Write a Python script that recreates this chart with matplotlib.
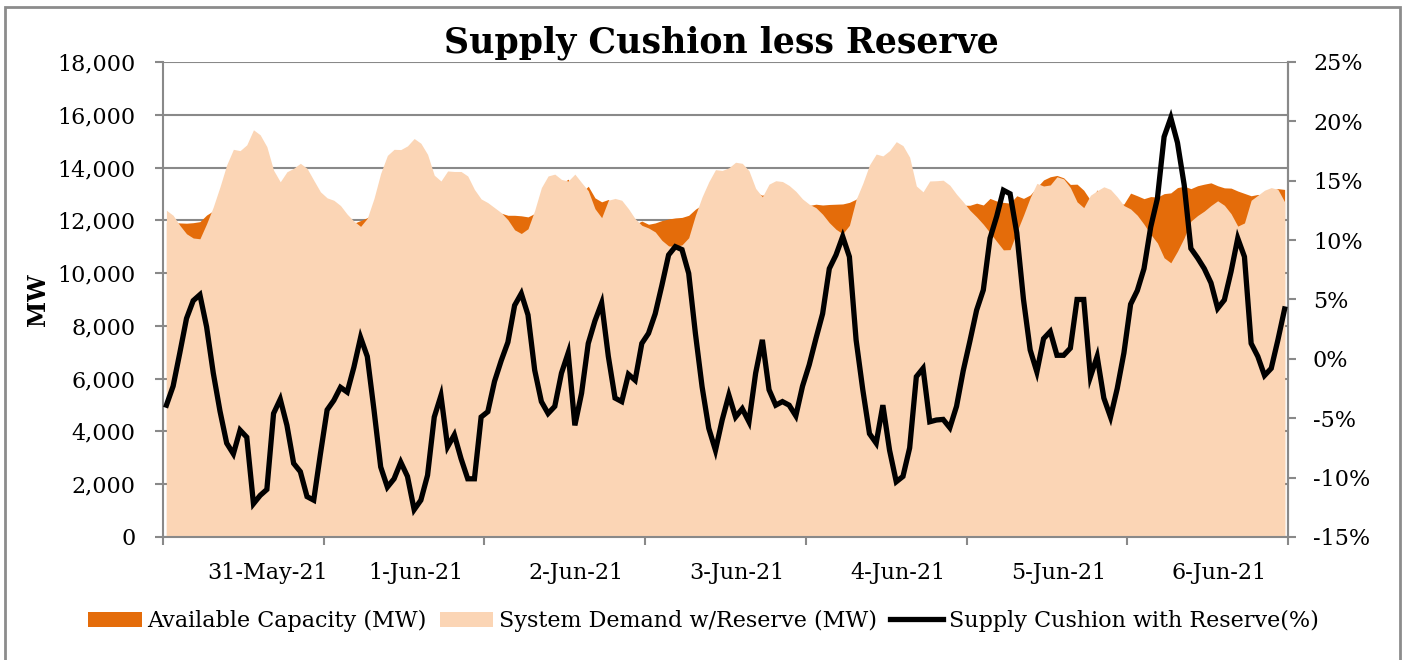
import numpy as np
import matplotlib
matplotlib.use("Agg")
import matplotlib.pyplot as plt
from matplotlib.patches import Patch, Rectangle
from matplotlib.lines import Line2D
from matplotlib.ticker import FuncFormatter, FixedLocator

# hourly values, 31-May-21 .. 6-Jun-21 (24 per day)
cap_mw = [
    11920, 11920, 11900, 11890, 11910, 11950, 12200, 12360, 12710, 13170, 13600, 13810,
    13940, 13750, 13670, 13320, 13290, 13020, 13110, 12840, 12930, 12520, 12080, 12110,
    12320, 12330, 12270, 11900, 11890, 11990, 12100, 12300, 12630, 13050, 13340, 13510,
    13490, 13400, 13330, 13210, 13070, 13080, 12910, 13020, 12780, 12420, 11960, 12210,
    12130, 12250, 12270, 12190, 12190, 12170, 12130, 12260, 12780, 13080, 13220, 13390,
    13560, 13020, 13050, 13290, 12850, 12700, 12790, 12420, 12320, 12280, 11850, 11970,
    11850, 11900, 11990, 12050, 12090, 12110, 12190, 12420, 12590, 12720, 12920, 13210,
    13580, 13540, 13590, 13180, 13050, 12950, 13030, 12990, 13000, 12820, 12500, 12520,
    12560, 12610, 12580, 12600, 12610, 12620, 12680, 12800, 13060, 13260, 13550, 13900,
    13590, 13580, 13490, 13390, 13100, 12980, 12810, 12840, 12860, 12600, 12490, 12570,
    12570, 12650, 12580, 12830, 12730, 12680, 12650, 12930, 12830, 12960, 13250, 13530,
    13650, 13700, 13610, 13360, 13370, 13140, 12760, 13150, 12850, 12550, 12580, 12620,
    13030, 12930, 12820, 12900, 12880, 13010, 13040, 13240, 13290, 13200, 13310, 13370,
    13420, 13310, 13230, 13220, 13110, 13020, 12930, 12980, 12960, 13130, 13200, 13170,
]
demand_mw = [
    12380, 12190, 11810, 11490, 11330, 11300, 11870, 12510, 13270, 14100, 14690, 14640,
    14860, 15430, 15240, 14790, 13900, 13460, 13840, 13970, 14160, 13970, 13520, 13080,
    12850, 12760, 12560, 12230, 11970, 11770, 12080, 12830, 13780, 14460, 14690, 14680,
    14820, 15100, 14920, 14500, 13710, 13490, 13870, 13850, 13850, 13680, 13170, 12810,
    12670, 12480, 12290, 12020, 11640, 11500, 11680, 12380, 13240, 13680, 13750, 13550,
    13490, 13750, 13430, 13120, 12440, 12100, 12760, 12830, 12760, 12440, 12060, 11810,
    11710, 11560, 11240, 11030, 11010, 11070, 11340, 12190, 12890, 13460, 13920, 13890,
    13990, 14200, 14160, 13880, 13210, 12890, 13370, 13500, 13470, 13320, 13100, 12810,
    12610, 12480, 12230, 11910, 11660, 11490, 11810, 12790, 13400, 14100, 14510, 14440,
    14640, 14980, 14830, 14390, 13300, 13080, 13490, 13500, 13520, 13330, 12990, 12700,
    12380, 12130, 11850, 11530, 11200, 10880, 10890, 11560, 12190, 12860, 13400, 13300,
    13340, 13650, 13570, 13240, 12700, 12480, 12950, 13120, 13270, 13170, 12890, 12560,
    12430, 12190, 11850, 11470, 11140, 10580, 10390, 10830, 11340, 11970, 12180, 12350,
    12560, 12740, 12570, 12250, 11780, 11900, 12760, 12950, 13140, 13240, 13170, 12700,
]
cushion_pct = [
    -3.9, -2.3, 0.5, 3.4, 4.9, 5.4, 2.7, -1.2, -4.4, -7.1, -8.0, -6.0,
    -6.6, -12.2, -11.5, -11.0, -4.6, -3.4, -5.6, -8.8, -9.5, -11.6, -11.9, -8.0,
    -4.3, -3.5, -2.4, -2.8, -0.7, 1.8, 0.2, -4.3, -9.1, -10.8, -10.1, -8.7,
    -9.9, -12.7, -11.9, -9.8, -4.9, -3.1, -7.4, -6.4, -8.4, -10.1, -10.1, -4.9,
    -4.45, -1.9, -0.15, 1.4, 4.5, 5.5, 3.7, -0.95, -3.6, -4.6, -4.0, -1.2,
    0.5, -5.6, -2.9, 1.3, 3.2, 4.7, 0.2, -3.3, -3.6, -1.3, -1.8, 1.3,
    2.15, 3.8, 6.2, 8.75, 9.45, 9.2, 7.2, 2.15, -2.35, -5.85, -7.7, -5.15,
    -3.05, -4.9, -4.2, -5.3, -1.2, 1.6, -2.6, -3.9, -3.6, -3.9, -4.8, -2.3,
    -0.5, 1.7, 3.8, 7.6, 8.75, 10.3, 8.6, 1.6, -2.6, -6.3, -7.1, -3.9,
    -7.7, -10.35, -9.9, -7.5, -1.5, -0.8, -5.3, -5.15, -5.1, -5.8, -4.0, -1.0,
    1.5, 4.1, 5.8, 10.15, 12.0, 14.2, 13.9, 10.6, 5.0, 0.75, -1.1, 1.7,
    2.3, 0.3, 0.3, 0.9, 5.0, 5.0, -1.5, 0.2, -3.3, -4.9, -2.5, 0.5,
    4.6, 5.75, 7.6, 11.1, 13.5, 18.7, 20.3, 18.2, 14.65, 9.3, 8.5, 7.6,
    6.4, 4.25, 4.96, 7.35, 10.15, 8.6, 1.3, 0.2, -1.4, -0.8, 1.6, 4.2,
]
day_labels = ['31-May-21', '1-Jun-21', '2-Jun-21', '3-Jun-21', '4-Jun-21', '5-Jun-21', '6-Jun-21']

ORANGE = '#E46C0A'
PEACH = '#FBD5B5'
GRID = '#898989'

plt.rcParams['font.family'] = ['DejaVu Serif']
plt.rcParams['font.size'] = 16

fig = plt.figure(figsize=(14.07, 6.6), dpi=100)
ax = fig.add_axes([0.1159, 0.1864, 0.7995, 0.7197])

hours = np.arange(len(demand_mw))
ax.fill_between(hours, cap_mw, color=ORANGE, lw=0, zorder=1)
ax.fill_between(hours, demand_mw, color=PEACH, lw=0, zorder=2)

ax.set_xlim(-0.5, len(hours) - 0.5)
ax.set_ylim(0, 18000)
ax.set_yticks(np.arange(0, 18001, 2000))
ax.yaxis.set_major_formatter(FuncFormatter(lambda v, p: f'{v:,.0f}'))
ax.set_axisbelow(True)
ax.grid(axis='y', color=GRID, lw=1.5, zorder=0)

# day boundaries as major ticks, day names as minor ticks (left aligned)
ax.xaxis.set_major_locator(FixedLocator(np.arange(0, 8) * 24 - 0.5))
ax.set_xticklabels([])
ax.set_xticks([24 * k + 6.1 for k in range(7)], day_labels, minor=True)
for t in ax.get_xticklabels(minor=True):
    t.set_ha('left')
ax.tick_params(axis='x', which='minor', length=0, pad=18)
ax.tick_params(axis='x', which='major', length=6, width=1.5, color=GRID, direction='out')
ax.tick_params(axis='y', length=6, width=1.5, color=GRID, pad=14)

ax.spines['top'].set_visible(False)
for s in ['left', 'bottom', 'right']:
    ax.spines[s].set_color(GRID)
    ax.spines[s].set_linewidth(1.5)
ax.set_ylabel('MW', fontweight='bold', fontsize=17, labelpad=5)

ax2 = ax.twinx()
ax2.plot(hours, cushion_pct, color='black', lw=3.8, solid_joinstyle='miter', zorder=5)
ax2.set_ylim(-15, 25)
ax2.set_yticks(np.arange(-15, 26, 5))
ax2.yaxis.set_major_formatter(FuncFormatter(lambda v, p: f'{v:.0f}%'))
ax2.tick_params(axis='y', length=6, width=1.5, color=GRID, pad=12)
for s in ['top', 'left', 'bottom']:
    ax2.spines[s].set_visible(False)
ax2.spines['right'].set_color(GRID)
ax2.spines['right'].set_linewidth(1.5)

fig.text(0.5125, 0.921, 'Supply Cushion less Reserve', ha='center', va='baseline',
         fontsize=25, fontweight='bold')

handles = [Patch(facecolor=ORANGE, edgecolor='none'),
           Patch(facecolor=PEACH, edgecolor='none'),
           Line2D([0], [0], color='black', lw=3.8)]
names = ['Available Capacity (MW)', 'System Demand w/Reserve (MW)', 'Supply Cushion with Reserve(%)']
fig.legend(handles, names, loc='center', bbox_to_anchor=(0.5, 0.059), ncol=3, frameon=False,
           handlelength=2.4, handleheight=0.65, handletextpad=0.25, columnspacing=0.6,
           borderpad=0, fontsize=16)

fig.patches.append(Rectangle((5 / 1407, -0.05), 1395 / 1407, 1.05 - 7 / 660,
                             transform=fig.transFigure, fill=False, edgecolor='#8C8C8C', lw=2))

fig.savefig('out.png', dpi=100)
